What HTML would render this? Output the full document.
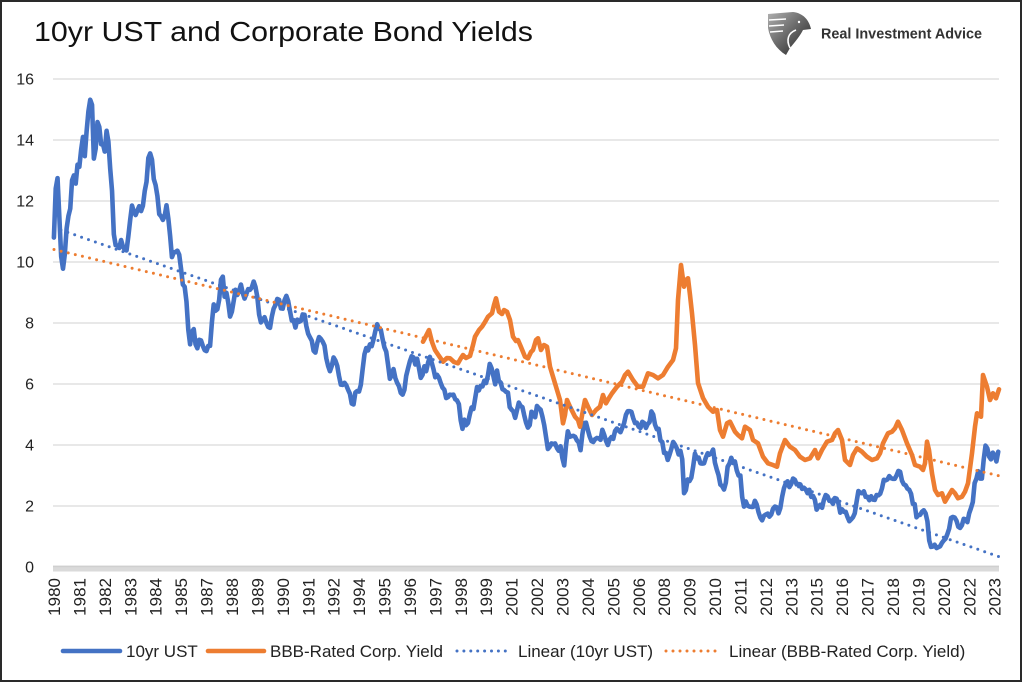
<!DOCTYPE html>
<html>
<head>
<meta charset="utf-8">
<style>
  html,body{margin:0;padding:0;background:#fff;}
  svg{display:block;}
  text{font-family:"Liberation Sans", Arial, sans-serif;}
</style>
</head>
<body>
<svg width="1024" height="683" viewBox="0 0 1024 683" xmlns="http://www.w3.org/2000/svg">
  <defs>
    <linearGradient id="lg" x1="0" y1="0" x2="1" y2="1">
      <stop offset="0" stop-color="#b0b0b0"/>
      <stop offset="0.5" stop-color="#666"/>
      <stop offset="1" stop-color="#1e1e1e"/>
    </linearGradient>
  </defs>
  <rect x="0" y="0" width="1024" height="683" fill="#fff"/>
  <rect x="1" y="1" width="1020" height="680" fill="none" stroke="#2a2a2a" stroke-width="2"/>

  <!-- Title -->
  <text x="34" y="41" font-size="28" fill="#111" textLength="499" lengthAdjust="spacingAndGlyphs">10yr UST and Corporate Bond Yields</text>

  <!-- Logo -->
  <g>
    <path d="M768,14 L793,12 C803,13 809,20 811,29 L803,30 C800,36 795,42 790,48 L786,55 C776,49 770,39 768,28 Z" fill="url(#lg)"/>
    <path d="M769,20 L786,19 M769,26 L784,25 M770,32 L783,31" stroke="#fff" stroke-width="1.6" fill="none"/>
    <path d="M790,48 C786,40 788,33 796,30" stroke="#fff" stroke-width="1.6" fill="none"/>
    <circle cx="799" cy="22" r="1.2" fill="#fff"/>
  </g>
  <text x="821" y="38.5" font-size="14.4" font-weight="bold" fill="#333">Real Investment Advice</text>

  <!-- Gridlines -->
  <g stroke="#d9d9d9" stroke-width="1.3">
    <line x1="53" y1="506" x2="999" y2="506"/>
    <line x1="53" y1="445" x2="999" y2="445"/>
    <line x1="53" y1="384" x2="999" y2="384"/>
    <line x1="53" y1="323" x2="999" y2="323"/>
    <line x1="53" y1="262" x2="999" y2="262"/>
    <line x1="53" y1="201" x2="999" y2="201"/>
    <line x1="53" y1="140" x2="999" y2="140"/>
    <line x1="53" y1="79" x2="999" y2="79"/>
  </g>
  <!-- X axis band (dense tick marks) -->
  <rect x="53" y="565.5" width="946" height="6" fill="#dadada"/>
  <line x1="53" y1="566.5" x2="999" y2="566.5" stroke="#cfcfcf" stroke-width="1.2"/>

  <!-- Y labels -->
  <g font-size="16" fill="#222" text-anchor="end">
    <text x="34" y="572.7">0</text>
    <text x="34" y="511.7">2</text>
    <text x="34" y="450.7">4</text>
    <text x="34" y="389.7">6</text>
    <text x="34" y="328.7">8</text>
    <text x="34" y="267.7">10</text>
    <text x="34" y="206.7">12</text>
    <text x="34" y="145.7">14</text>
    <text x="34" y="84.7">16</text>
  </g>

  <!-- X labels -->
  <g font-size="17" fill="#222" text-anchor="end">
    <text transform="translate(60.0,578) rotate(-90)">1980</text>
    <text transform="translate(85.4,578) rotate(-90)">1981</text>
    <text transform="translate(110.8,578) rotate(-90)">1982</text>
    <text transform="translate(136.3,578) rotate(-90)">1983</text>
    <text transform="translate(161.7,578) rotate(-90)">1984</text>
    <text transform="translate(187.1,578) rotate(-90)">1985</text>
    <text transform="translate(212.6,578) rotate(-90)">1987</text>
    <text transform="translate(238.0,578) rotate(-90)">1988</text>
    <text transform="translate(263.4,578) rotate(-90)">1989</text>
    <text transform="translate(288.8,578) rotate(-90)">1990</text>
    <text transform="translate(314.3,578) rotate(-90)">1991</text>
    <text transform="translate(339.7,578) rotate(-90)">1992</text>
    <text transform="translate(365.1,578) rotate(-90)">1994</text>
    <text transform="translate(390.5,578) rotate(-90)">1995</text>
    <text transform="translate(416.0,578) rotate(-90)">1996</text>
    <text transform="translate(441.4,578) rotate(-90)">1997</text>
    <text transform="translate(466.8,578) rotate(-90)">1998</text>
    <text transform="translate(492.2,578) rotate(-90)">1999</text>
    <text transform="translate(517.6,578) rotate(-90)">2001</text>
    <text transform="translate(543.1,578) rotate(-90)">2002</text>
    <text transform="translate(568.5,578) rotate(-90)">2003</text>
    <text transform="translate(593.9,578) rotate(-90)">2004</text>
    <text transform="translate(619.3,578) rotate(-90)">2005</text>
    <text transform="translate(644.8,578) rotate(-90)">2006</text>
    <text transform="translate(670.2,578) rotate(-90)">2008</text>
    <text transform="translate(695.6,578) rotate(-90)">2009</text>
    <text transform="translate(721.0,578) rotate(-90)">2010</text>
    <text transform="translate(746.5,578) rotate(-90)">2011</text>
    <text transform="translate(771.9,578) rotate(-90)">2012</text>
    <text transform="translate(797.3,578) rotate(-90)">2013</text>
    <text transform="translate(822.7,578) rotate(-90)">2015</text>
    <text transform="translate(848.2,578) rotate(-90)">2016</text>
    <text transform="translate(873.6,578) rotate(-90)">2017</text>
    <text transform="translate(899.0,578) rotate(-90)">2018</text>
    <text transform="translate(924.4,578) rotate(-90)">2019</text>
    <text transform="translate(949.9,578) rotate(-90)">2020</text>
    <text transform="translate(975.3,578) rotate(-90)">2022</text>
    <text transform="translate(1000.7,578) rotate(-90)">2023</text>
  </g>

  <!-- 10yr UST series (month index, yield) -->
  <g transform="translate(53.908,567) scale(1.816,-30.5)">
    <polyline fill="none" stroke="#4472C4" stroke-width="4.6" stroke-linejoin="round" stroke-linecap="round" vector-effect="non-scaling-stroke"
      points="0,10.80 1,12.41 2,12.75 3,11.47 4,10.18 5,9.78 6,10.25 7,11.10 8,11.51 9,11.75 10,12.68 11,12.84
12,12.57 13,13.19 14,13.12 15,13.68 16,14.10 17,13.47 18,14.28 19,14.94 20,15.32 21,15.15 22,13.39 23,13.72
24,14.59 25,14.43 26,13.86 27,13.87 28,13.62 29,14.30 30,13.95 31,13.06 32,12.34 33,10.91 34,10.55 35,10.54
36,10.46 37,10.72 38,10.51 39,10.40 40,10.38 41,10.85 42,11.38 43,11.85 44,11.65 45,11.54 46,11.69 47,11.83
48,11.67 49,11.84 50,12.32 51,12.63 52,13.41 53,13.56 54,13.36 55,12.72 56,12.52 57,12.16 58,11.57 59,11.50
60,11.38 61,11.51 62,11.86 63,11.43 64,10.85 65,10.16 66,10.31 67,10.33 68,10.37 69,10.24 70,9.78 71,9.26
72,9.19 73,8.70 74,7.78 75,7.30 76,7.71 77,7.80 78,7.30 79,7.17 80,7.45 81,7.43 82,7.25 83,7.11
84,7.08 85,7.25 86,7.25 87,8.02 88,8.61 89,8.40 90,8.45 91,8.76 92,9.42 93,9.52 94,8.86 95,8.99
96,8.67 97,8.21 98,8.37 99,8.72 100,9.09 101,8.92 102,9.06 103,9.26 104,8.98 105,8.80 106,8.96 107,9.11
108,9.09 109,9.17 110,9.36 111,9.18 112,8.86 113,8.28 114,8.02 115,8.11 116,8.19 117,8.01 118,7.87 119,7.84
120,8.21 121,8.47 122,8.59 123,8.79 124,8.76 125,8.48 126,8.47 127,8.75 128,8.89 129,8.72 130,8.39 131,8.08
132,8.09 133,7.85 134,8.11 135,8.04 136,8.07 137,8.28 138,8.27 139,7.90 140,7.65 141,7.53 142,7.42 143,7.09
144,7.03 145,7.34 146,7.54 147,7.48 148,7.39 149,7.26 150,6.84 151,6.59 152,6.42 153,6.59 154,6.87 155,6.77
156,6.60 157,6.26 158,5.98 159,5.97 160,6.04 161,5.96 162,5.81 163,5.68 164,5.36 165,5.33 166,5.72 167,5.77
168,5.75 169,5.97 170,6.48 171,6.97 172,7.18 173,7.10 174,7.30 175,7.24 176,7.46 177,7.74 178,7.96 179,7.81
180,7.78 181,7.47 182,7.20 183,7.06 184,6.63 185,6.17 186,6.28 187,6.49 188,6.20 189,6.04 190,5.93 191,5.71
192,5.65 193,5.81 194,6.27 195,6.51 196,6.74 197,6.91 198,6.87 199,6.64 200,6.83 201,6.53 202,6.20 203,6.30
204,6.58 205,6.42 206,6.69 207,6.89 208,6.71 209,6.49 210,6.22 211,6.30 212,6.21 213,6.03 214,5.88 215,5.81
216,5.54 217,5.57 218,5.65 219,5.64 220,5.65 221,5.50 222,5.46 223,5.34 224,4.81 225,4.53 226,4.83 227,4.65
228,4.72 229,5.00 230,5.23 231,5.18 232,5.54 233,5.90 234,5.79 235,5.94 236,5.92 237,6.11 238,6.03 239,6.28
240,6.66 241,6.52 242,6.26 243,5.99 244,6.44 245,6.10 246,6.05 247,5.83 248,5.80 249,5.74 250,5.72 251,5.24
252,5.16 253,5.10 254,4.89 255,5.14 256,5.39 257,5.28 258,5.24 259,4.97 260,4.73 261,4.57 262,4.65 263,5.09
264,5.04 265,4.91 266,5.28 267,5.21 268,5.16 269,4.93 270,4.65 271,4.26 272,3.87 273,3.94 274,4.05 275,4.03
276,4.05 277,3.90 278,3.81 279,3.96 280,3.57 281,3.33 282,3.98 283,4.45 284,4.27 285,4.29 286,4.30 287,4.27
288,4.15 289,4.08 290,3.83 291,4.35 292,4.72 293,4.73 294,4.50 295,4.28 296,4.13 297,4.10 298,4.19 299,4.23
300,4.22 301,4.17 302,4.50 303,4.34 304,4.14 305,4.00 306,4.18 307,4.26 308,4.20 309,4.46 310,4.54 311,4.47
312,4.42 313,4.57 314,4.72 315,4.99 316,5.11 317,5.11 318,5.09 319,4.88 320,4.72 321,4.73 322,4.60 323,4.56
324,4.76 325,4.72 326,4.56 327,4.69 328,4.75 329,5.10 330,5.00 331,4.67 332,4.52 333,4.53 334,4.15 335,4.10
336,3.74 337,3.74 338,3.51 339,3.68 340,3.88 341,4.10 342,4.01 343,3.89 344,3.69 345,3.81 346,3.53 347,2.42
348,2.52 349,2.87 350,2.82 351,2.93 352,3.29 353,3.72 354,3.56 355,3.59 356,3.40 357,3.39 358,3.40 359,3.59
360,3.73 361,3.69 362,3.73 363,3.85 364,3.42 365,3.20 366,3.01 367,2.70 368,2.65 369,2.54 370,2.76 371,3.29
372,3.39 373,3.58 374,3.41 375,3.46 376,3.17 377,3.00 378,3.00 379,2.30 380,1.98 381,2.15 382,2.01 383,1.98
384,1.97 385,1.97 386,2.17 387,2.05 388,1.80 389,1.62 390,1.53 391,1.68 392,1.72 393,1.75 394,1.65 395,1.72
396,1.91 397,1.98 398,1.96 399,1.76 400,1.93 401,2.30 402,2.58 403,2.74 404,2.81 405,2.62 406,2.72 407,2.90
408,2.86 409,2.71 410,2.72 411,2.71 412,2.56 413,2.60 414,2.54 415,2.42 416,2.53 417,2.30 418,2.33 419,2.21
420,1.88 421,1.98 422,2.04 423,1.94 424,2.20 425,2.36 426,2.32 427,2.17 428,2.17 429,2.07 430,2.26 431,2.24
432,2.09 433,1.78 434,1.89 435,1.81 436,1.81 437,1.64 438,1.50 439,1.56 440,1.63 441,1.76 442,2.14 443,2.49
444,2.43 445,2.42 446,2.48 447,2.30 448,2.30 449,2.19 450,2.32 451,2.21 452,2.20 453,2.36 454,2.35 455,2.40
456,2.58 457,2.86 458,2.84 459,2.87 460,2.98 461,2.91 462,2.89 463,2.89 464,3.00 465,3.15 466,3.12 467,2.83
468,2.71 469,2.68 470,2.57 471,2.53 472,2.40 473,2.07 474,2.06 475,1.63 476,1.70 477,1.71 478,1.81 479,1.86
480,1.76 481,1.50 482,0.87 483,0.66 484,0.67 485,0.73 486,0.62 487,0.65 488,0.68 489,0.79 490,0.87 491,0.93
492,1.08 493,1.26 494,1.61 495,1.64 496,1.62 497,1.52 498,1.32 499,1.28 500,1.37 501,1.58 502,1.56 503,1.47
504,1.76 505,1.93 506,2.13 507,2.75 508,2.90 509,3.14 510,2.90 511,2.90 512,3.52 513,3.98 514,3.89 515,3.62
516,3.53 517,3.75 518,3.66 519,3.46 520,3.78"/>
  </g>

  <!-- BBB-Rated Corp. Yield (pixel coordinates) -->
  <polyline fill="none" stroke="#ED7D31" stroke-width="4.6" stroke-linejoin="round" stroke-linecap="round"
    points="423,341.7 426,336 429,330 432,342 435,350 439,356 443,361.7 447,358 450,358.3 454,362 458,363.3 461,358 463,355 466,358 470,356 473,345 475,336.7 479,330 482,326.7 485,322 488,316.7 492,313.3 494,305 496,298.3 499,311.7 502,314 504,310 507,311.7 510,320 513,336.7 516,341 518,340 521,347 525,356.7 528,358.3 531,352 533,350 536,340 538,338.3 541,350 544,345 547,346.7 550,366.7 553,376.7 557,390 560,400 563,423.3 565,415 567,400 570,406.7 575,416.7 578,420 580,426.7 583,410 585,400 588,406.7 592,415 596,410 600,406.7 603,395 606,403.3 609,398 612,393.3 617,386.7 622,381.7 625,375 628,371.7 633,380 638,386.7 643,386.7 648,373.3 653,375 658,378.3 663,375 668,366.7 673,360 676,348.3 678,300 681,265 684,286.7 686,280 688,278.3 690,295 692,313.3 695,345 698,383 703,398 708,406.7 713,411.7 717,410 720,430 723,436.7 727,423.3 730,421.7 735,431.7 738,435 742,438.3 745,426.7 750,430 753,440 758,443.3 763,456.7 768,463.3 773,465 777,466.7 780,453.3 785,440 790,446.7 795,450 800,456.7 805,460 810,458.3 815,450 818,458.3 822,450 827,441.7 832,440 835,433.3 838,430 842,440 845,460 850,465 853,455 857,448.3 862,451.7 867,456.7 872,460 877,458.3 880,453.3 883,443.3 888,433.3 892,431.7 895,428.3 898,421.7 902,430 907,443.3 912,455 915,465 920,466.7 923,470 925,463.3 927,441.7 929,450 932,473.3 935,490 938,495 942,493.3 945,501.7 948,496.7 952,490 955,493.3 958,498.3 962,496.7 965,491.7 968,483.3 972,453.3 975,426.7 977,413.3 981,416.7 983,375 987,386.7 990,400 993,393.3 996,398.3 999,389.3"/>

  <!-- Trendlines -->
  <line x1="54" y1="227.6" x2="999" y2="556.7" stroke="#4472C4" stroke-width="3" stroke-linecap="round" stroke-dasharray="0 7.3"/>
  <line x1="54" y1="249.5" x2="999" y2="475.8" stroke="#ED7D31" stroke-width="3" stroke-linecap="round" stroke-dasharray="0 7.3"/>

  <!-- Legend -->
  <line x1="63" y1="651" x2="120" y2="651" stroke="#4472C4" stroke-width="4.6" stroke-linecap="round"/>
  <text x="126" y="657" font-size="17" fill="#222">10yr UST</text>
  <line x1="208" y1="651" x2="264" y2="651" stroke="#ED7D31" stroke-width="4.6" stroke-linecap="round"/>
  <text x="270" y="657" font-size="17" fill="#222">BBB-Rated Corp. Yield</text>
  <line x1="457" y1="651" x2="512" y2="651" stroke="#4472C4" stroke-width="3" stroke-linecap="round" stroke-dasharray="0 6.9"/>
  <text x="518" y="657" font-size="17" fill="#222">Linear (10yr UST)</text>
  <line x1="666" y1="651" x2="722" y2="651" stroke="#ED7D31" stroke-width="3" stroke-linecap="round" stroke-dasharray="0 7"/>
  <text x="729" y="657" font-size="17" fill="#222">Linear (BBB-Rated Corp. Yield)</text>
</svg>
</body>
</html>
